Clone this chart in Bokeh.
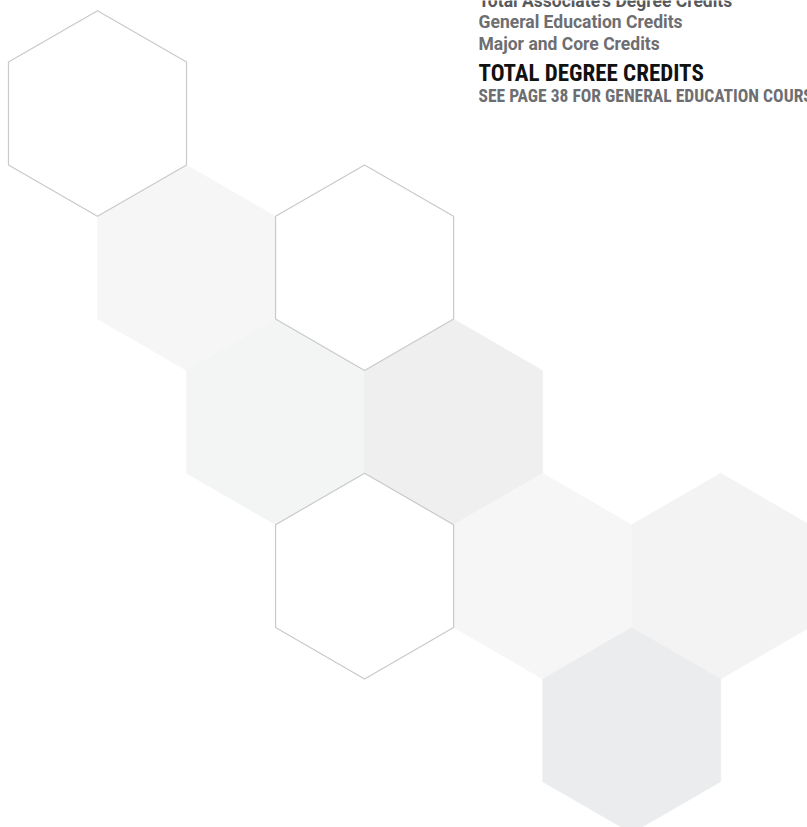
from bokeh.plotting import figure
from bokeh.models import Range1d, Label, ColumnDataSource
from bokeh.embed import file_html
from bokeh.resources import INLINE

# Hexagon tiles in axial coordinates (pointy-top)
hex_q = [0, 0, 1, 0, 1, 0, 1, 2, 1]
hex_r = [0, 1, 1, 2, 2, 3, 3, 3, 4]
hex_fill = ["#ffffff", "#f6f6f6", "#ffffff", "#f3f5f5", "#efefef",
            "#ffffff", "#f6f6f6", "#f3f3f3", "#ebecee"]
hex_outlined = [True, False, True, False, False, True, False, False, False]

# Text block
text_lines = ["Total Associate's Degree Credits",
              "General Education Credits",
              "Major and Core Credits",
              "TOTAL DEGREE CREDITS",
              "SEE PAGE 38 FOR GENERAL EDUCATION COURSES"]
text_colors = ["#58595b", "#6d6e71", "#6d6e71", "#111111", "#6d6e71"]
text_sizes = ["17.5px", "17.5px", "17.5px", "23px", "17.5px"]
text_fonts = ["Roboto", "Roboto", "Roboto",
              "Roboto Condensed, DejaVu Sans Condensed, Roboto",
              "Roboto Condensed, DejaVu Sans Condensed, Roboto"]
text_baselines = [0, 21.5, 43.5, 73, 95.5]

W, H = 807, 827
HEX_SIZE = 102.8

p = figure(width=W, height=H, output_backend="svg", toolbar_location=None,
           x_range=Range1d(-97, W - 97), y_range=Range1d(113 - H, 113),
           match_aspect=False)
p.axis.visible = False
p.grid.visible = False
p.outline_line_color = None
p.min_border = 0
p.background_fill_color = "white"
p.border_fill_color = "white"

filled = ColumnDataSource(dict(
    q=[q for q, o in zip(hex_q, hex_outlined) if not o],
    r=[r for r, o in zip(hex_r, hex_outlined) if not o],
    c=[c for c, o in zip(hex_fill, hex_outlined) if not o]))
outlined = ColumnDataSource(dict(
    q=[q for q, o in zip(hex_q, hex_outlined) if o],
    r=[r for r, o in zip(hex_r, hex_outlined) if o],
    c=[c for c, o in zip(hex_fill, hex_outlined) if o]))

p.hex_tile(q="q", r="r", size=HEX_SIZE, orientation="pointytop",
           source=filled, fill_color="c", line_color="c", line_width=0.5)
p.hex_tile(q="q", r="r", size=HEX_SIZE, orientation="pointytop",
           source=outlined, fill_color="c", line_color="#c9c9c9", line_width=1.2)

for t, col, sz, f, b in zip(text_lines, text_colors, text_sizes, text_fonts, text_baselines):
    p.add_layout(Label(x=478, y=H - b, x_units="screen", y_units="screen",
                       text=t, text_color=col, text_font_size=sz,
                       text_font=f, text_font_style="bold",
                       text_baseline="alphabetic", text_align="left"))

open("out.html", "w").write(file_html(p, INLINE))
